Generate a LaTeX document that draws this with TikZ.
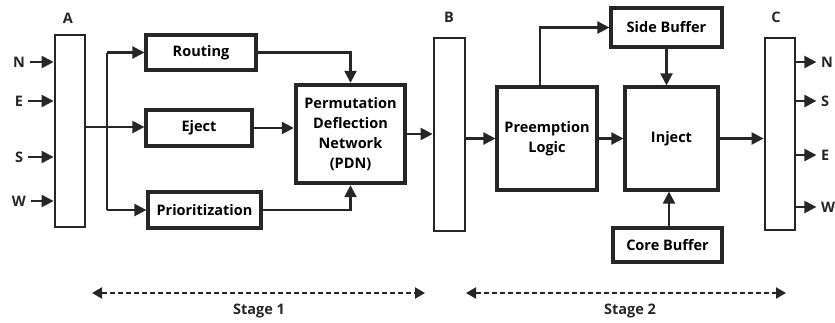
\documentclass[tikz,border=0pt]{standalone}
\usepackage{fontspec}
\setmainfont{Open Sans}
\usetikzlibrary{arrows.meta}
\begin{document}
\begin{tikzpicture}[x=1pt,y=-1pt,
  font=\bfseries\fontsize{14.5}{20}\selectfont,
  blk/.style={draw=black!85,line width=3.2pt,inner sep=0pt},
  bar/.style={draw=black!85,line width=2.8pt,inner sep=0pt},
  arr/.style={line width=2.3pt,draw=black!85,-{Triangle[length=12pt,width=12pt]}},
  ln/.style={line width=2.3pt,draw=black!85},
  stagearr/.style={line width=2pt,draw=black!85,dash pattern=on 5pt off 3pt,
    {Triangle[length=10pt,width=11pt]}-{Triangle[length=10pt,width=11pt]}},
  lbl/.style={inner sep=0pt,text=black!85}]
\useasboundingbox (0,0) rectangle (835,322);

% crossbars A, B, C
\node[bar,minimum width=30pt,minimum height=192pt] (A) at (70,131) {};
\node[bar,minimum width=31pt,minimum height=193pt] (B) at (449.5,134.5) {};
\node[bar,minimum width=30pt,minimum height=192pt] (C) at (780,134) {};
\node[lbl] (Alab) at (68,18) {A};
\node[lbl] (Blab) at (449,17) {B};
\node[lbl] (Clab) at (776,17) {C};

% stage 1 blocks
\node[blk,minimum width=110pt,minimum height=35pt] (route) at (201,52.5) {Routing};
\node[blk,minimum width=106pt,minimum height=36pt] (eject) at (199,128) {Eject};
\node[blk,minimum width=113pt,minimum height=36pt] (prio) at (204.5,210) {Prioritization};
\node[blk,line width=4.4pt,minimum width=109pt,minimum height=98pt,align=center] (pdn) at (350.5,134)
  {Permutation\\Deflection\\Network\\(PDN)};

% stage 2 blocks
\node[blk,minimum width=100pt,minimum height=103pt,align=center] (pre) at (547,138.5) {Preemption\\Logic};
\node[blk,minimum width=93pt,minimum height=103pt] (inj) at (671.5,138.5) {Inject};
\node[blk,minimum width=111pt,minimum height=39pt] (side) at (666.5,27.5) {Side Buffer};
\node[blk,minimum width=109pt,minimum height=34pt] (core) at (667.5,245) {Core Buffer};

% inputs on A
\foreach \d/\y [count=\i] in {N/62,E/101,S/157,W/201}{
  \node[lbl] (in\i) at (19,\y) {\d};
  \draw[arr] (in\i.east) ++(5,0) -- (A.west |- in\i);
}
% outputs from C
\foreach \d/\y [count=\i] in {N/62,S/101,E/155,W/207}{
  \node[lbl,anchor=west] (out\i) at (821,\y) {\d};
  \draw[arr] (C.east |- out\i) -- ++(20,0);
}

% fan-out from A
\coordinate (split) at (107,127);
\draw[ln] (A.east |- split) -- (split);
\draw[ln] (split |- route) -- (split |- prio);
\draw[arr] (split |- route) -- (route.west);
\draw[arr] (split) -- (eject.west |- split);
\draw[arr] (split |- prio) -- (prio.west);

% into the deflection network
\draw[arr] (route.east) -| (pdn.north);
\draw[arr] (eject.east) -- (pdn.west |- eject);
\draw[arr] (prio.east) -| (pdn.south);
\draw[arr] (pdn.east) -- (B.west |- pdn.east);

% stage 2 paths
\draw[arr] (B.east |- pre.west) -- (pre.west);
\draw[arr] (pre.north -| 540,0) |- (side.west);
\draw[arr] (side.south) -- (inj.north -| side.south);
\draw[arr] (pre.east) -- (inj.west);
\draw[arr] (core.north -| 669,0) -- (inj.south -| 669,0);
\draw[arr] (inj.east) -- (C.west |- inj.east);

% pipeline stages
\coordinate (s1a) at (92,293);
\coordinate (s1b) at (425,293);
\coordinate (s2a) at (466,293);
\coordinate (s2b) at (786,293);
\draw[stagearr] (s1a) -- (s1b);
\draw[stagearr] (s2a) -- (s2b);
\node[lbl] (st1) at (259,311) {Stage 1};
\node[lbl] (st2) at (630,311) {Stage 2};
\end{tikzpicture}
\end{document}
